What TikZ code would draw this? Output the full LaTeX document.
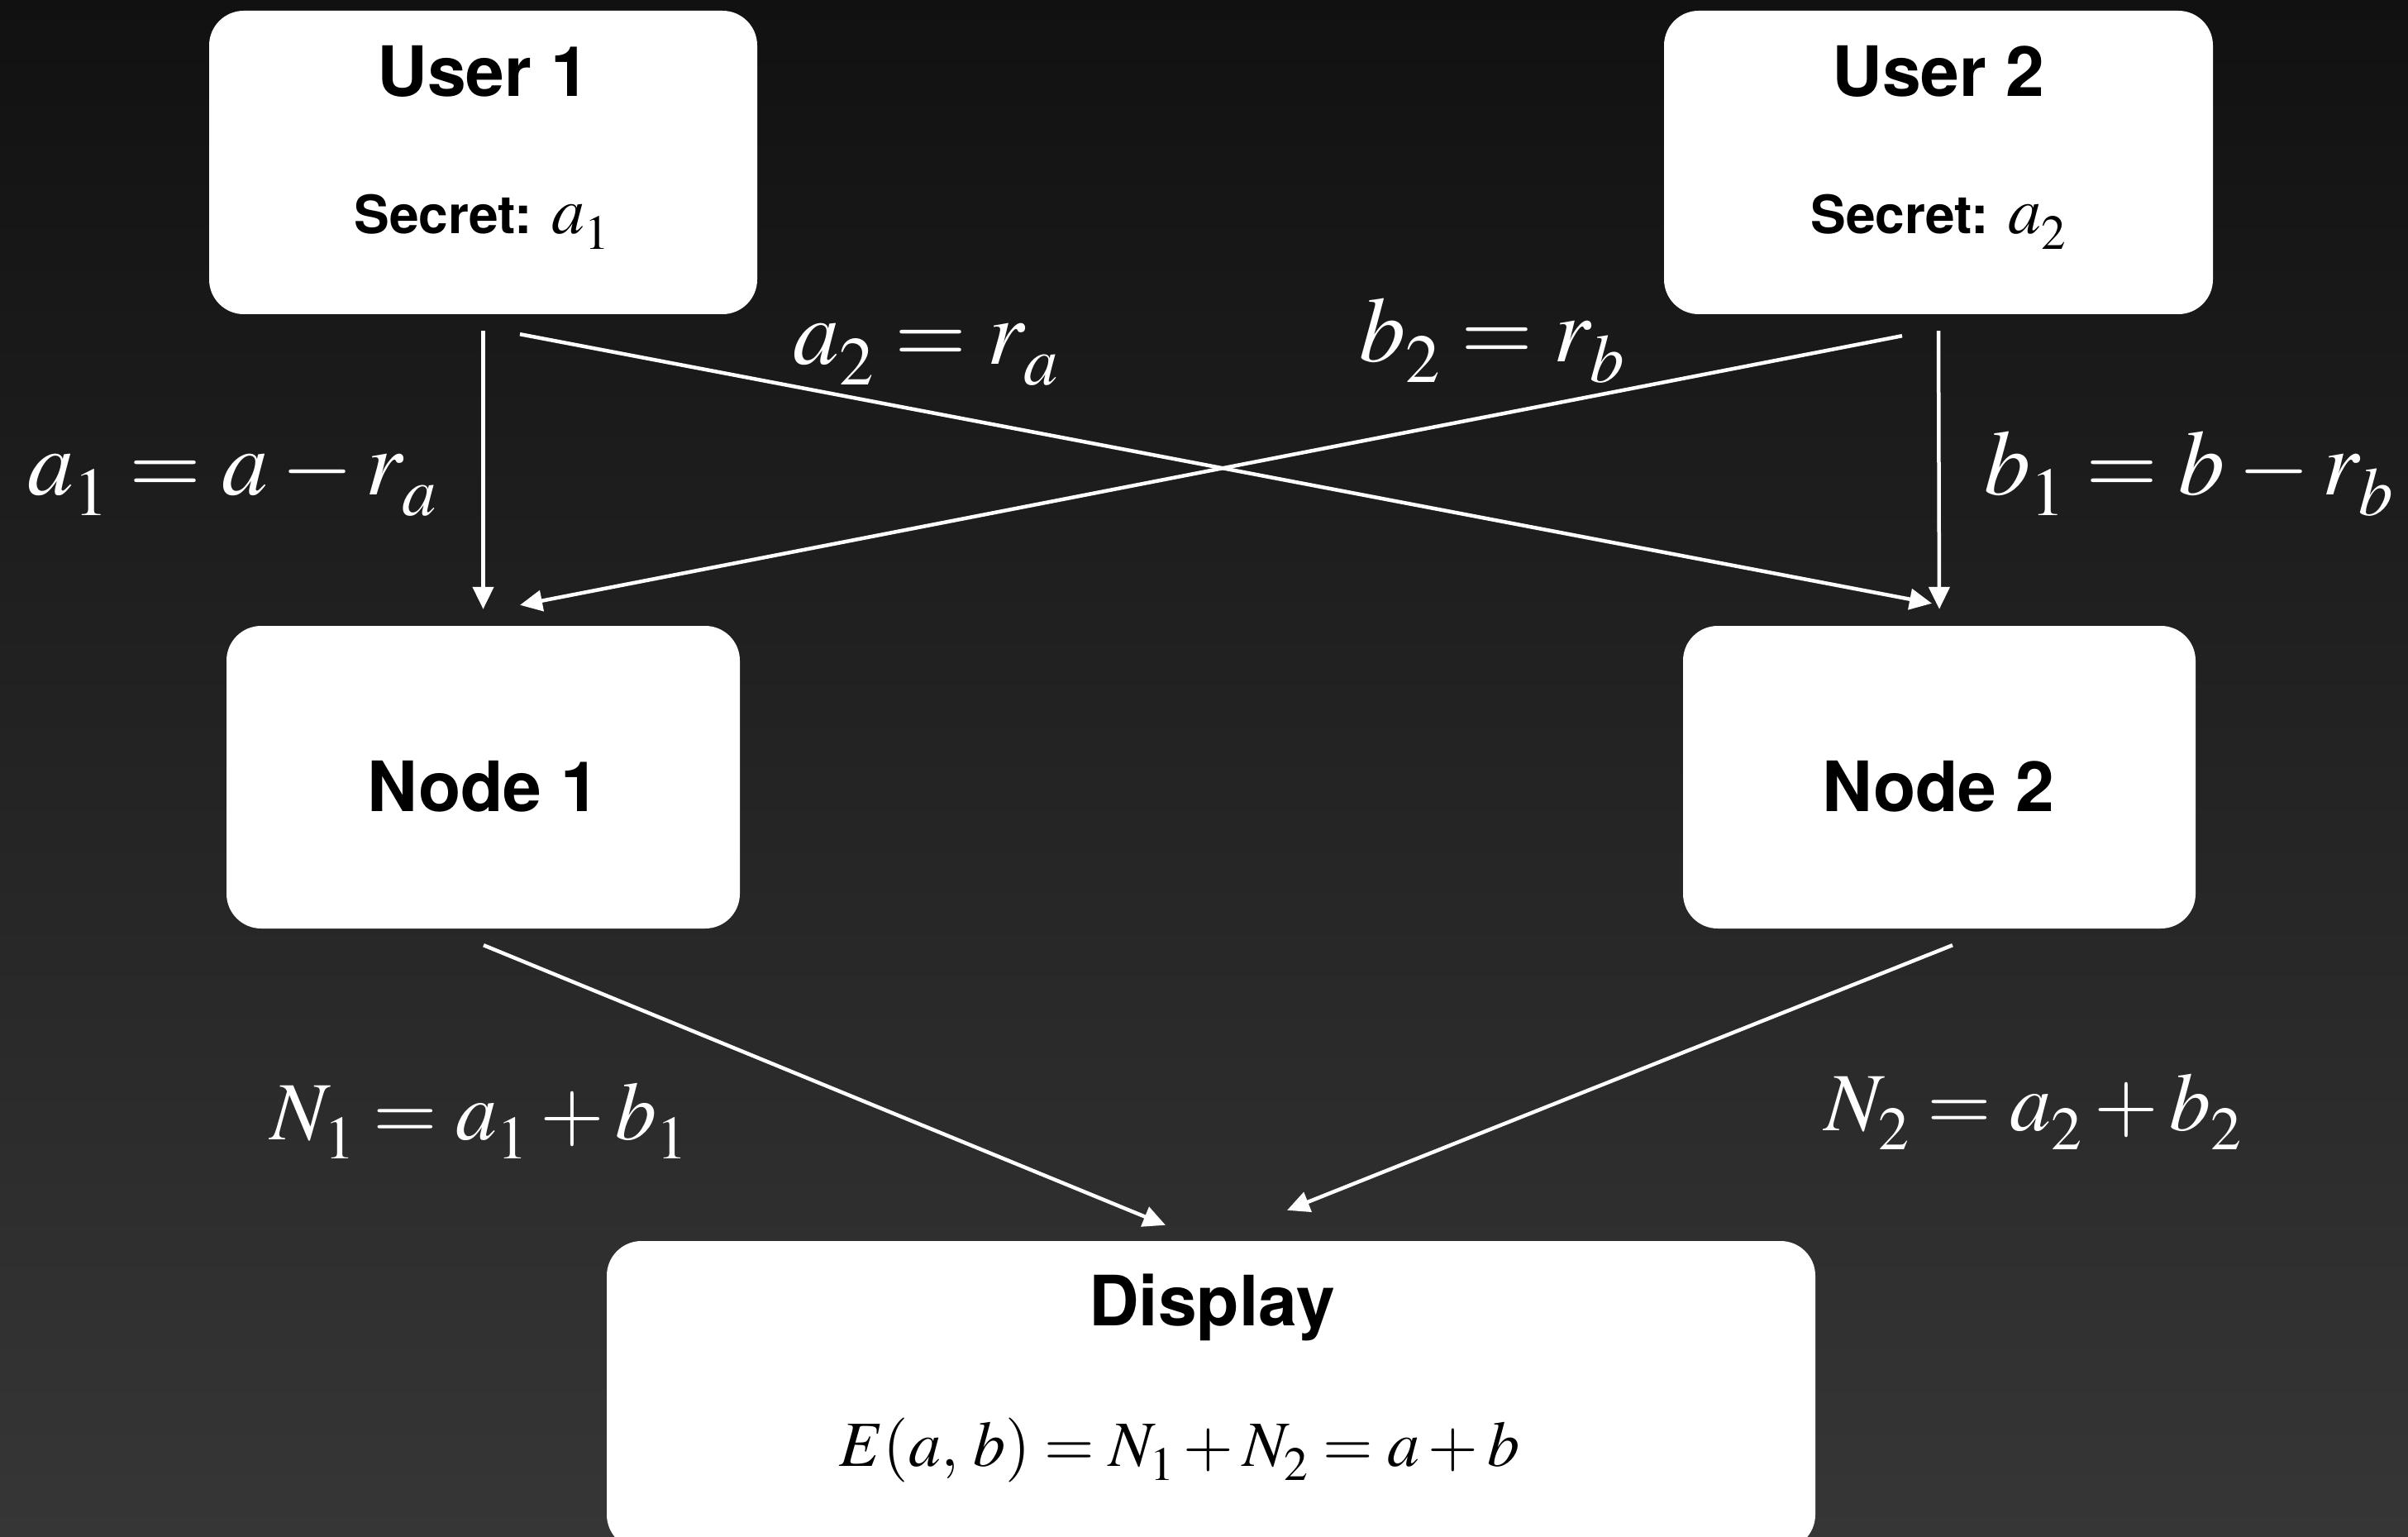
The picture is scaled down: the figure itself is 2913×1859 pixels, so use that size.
\documentclass[tikz,border=0pt]{standalone}
\usepackage{mathptmx}
\usepackage[no-math]{fontspec}
\setmainfont{TeX Gyre Heros}
\usetikzlibrary{arrows.meta}

\definecolor{bgtop}{HTML}{111111}
\definecolor{bgbot}{HTML}{363636}

% deeper subscripts, set for each math size in use
\everymath{\fontdimen16\textfont2=0.23em \fontdimen17\textfont2=0.23em}

\tikzset{
  box/.style={fill=white, rounded corners=42pt, inner sep=0pt, draw=none},
  title/.style={font=\fontsize{84}{90}\selectfont\bfseries, text=black, anchor=base, inner sep=0pt},
  secret/.style={font=\fontsize{64}{76}\selectfont\bfseries, text=black, anchor=base, inner sep=0pt},
  biglab/.style={font=\fontsize{112}{120}\selectfont, text=white, anchor=base, inner sep=0pt},
  midlab/.style={font=\fontsize{100}{110}\selectfont, text=white, anchor=base, inner sep=0pt},
  formula/.style={font=\fontsize{78}{90}\selectfont, text=black, anchor=base, inner sep=0pt},
  flow/.style={draw=white, line width=4.5pt, -{Triangle[length=27pt,width=25pt]}},
}

\begin{document}
\begin{tikzpicture}[x=1pt, y=-1pt]
  \useasboundingbox (0,0) rectangle (2913,1859);
  \clip (0,0) rectangle (2913,1859);
  % background
  \shade[top color=bgtop, bottom color=bgbot] (0,0) rectangle (2913,1859);

  % boxes
  \node[box, minimum width=663pt, minimum height=367pt] (u1) at (584.5,196.5) {};
  \node[box, minimum width=664pt, minimum height=367pt] (u2) at (2345,196.5) {};
  \node[box, minimum width=621pt, minimum height=366pt] (n1) at (584.5,940) {};
  \node[box, minimum width=620pt, minimum height=366pt] (n2) at (2346,940) {};
  \node[box, minimum width=1462pt, minimum height=373pt] (disp) at (1465,1687.5) {};

  % box texts
  \node[title] (u1t) at (585,117) {User 1};
  \node[secret] (u1s) at (583,283) {Secret: {\fontsize{80}{90}\selectfont$a_1$}};
  \node[title] (u2t) at (2345,117) {User 2};
  \node[secret] (u2s) at (2345,283) {Secret: {\fontsize{80}{90}\selectfont$a_2$}};
  \node[title] (n1t) at (585,981) {Node 1};
  \node[title] (n2t) at (2345,981) {Node 2};
  \node[title] (dt) at (1466,1603) {Display};
  \node[formula] (df) at (1427,1773) {$E(a,\,b) = N_1 + N_2 = a + b$};

  % connectors
  \draw[flow] ([yshift=-20pt]u1.south) -- ([yshift=20pt]n1.north);
  \draw[flow] ([yshift=-20pt]u2.south) -- ([yshift=20pt]n2.north);
  \draw[flow] ([xshift=44.5pt,yshift=-24pt]u1.south) -- ([xshift=-9pt,yshift=27pt]n2.north);
  \draw[flow] ([xshift=-44pt,yshift=-26pt]u2.south) -- ([xshift=44.5pt,yshift=25pt]n1.north);
  \draw[flow] ([xshift=0.5pt,yshift=-20pt]n1.south) -- ([xshift=-55pt,yshift=19pt]disp.north);
  \draw[flow] ([xshift=16pt,yshift=-20pt]n2.south) -- ([xshift=92pt,yshift=37pt]disp.north);

  % connector labels
  \node[biglab] (la1) at (281,598) {$a_1 = a - r_a$};
  \node[biglab] (la2) at (1120,440) {$a_2 = r_a$};
  \node[biglab] (lb2) at (1805,437) {$b_2 = r_b$};
  \node[biglab] (lb1) at (2648,598) {$b_1 = b - r_b$};
  \node[midlab] (ln1) at (580,1378) {$N_1 = a_1 + b_1$};
  \node[midlab] (ln2) at (2460,1367) {$N_2 = a_2 + b_2$};
\end{tikzpicture}
\end{document}
